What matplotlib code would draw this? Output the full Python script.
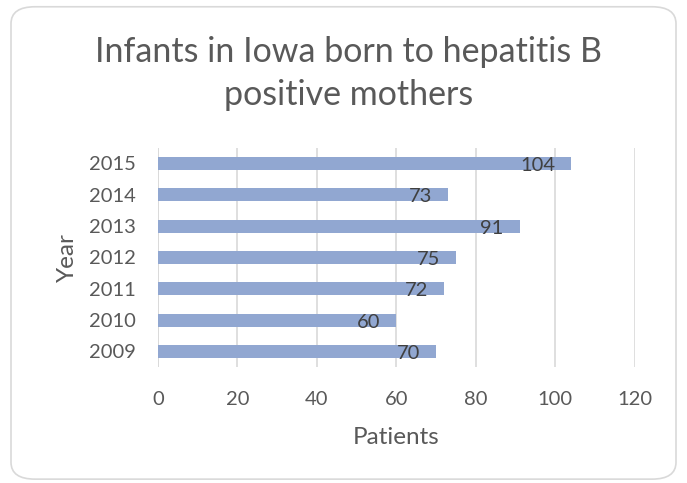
import matplotlib.pyplot as plt
from matplotlib.patches import FancyBboxPatch

years = ['2009', '2010', '2011', '2012', '2013', '2014', '2015']
patients = [70, 60, 72, 75, 91, 73, 104]
xticks = [0, 20, 40, 60, 80, 100, 120]

plt.rcParams['font.family'] = ['Lato', 'DejaVu Sans']

fig = plt.figure(figsize=(6.87, 4.83), dpi=100)

# rounded chart frame, like the excel chart area
frame = FancyBboxPatch((0.016, 0.008), 0.968, 0.978,
                       boxstyle='round,pad=0,rounding_size=0.035',
                       transform=fig.transFigure, fc='white', ec='#D9D9D9', lw=1.2,
                       zorder=-5)
fig.patches.append(frame)

ax = fig.add_axes([0.230, 0.240, 0.694, 0.454])
ax.set_facecolor('none')

pos = range(len(years))
ax.barh(pos, patients, height=0.42, color='#91A7D1', zorder=2)
for y, v in zip(pos, patients):
    ax.annotate(str(v), (v, y), xytext=(-16, -2), textcoords='offset pixels',
                ha='right', va='center', fontsize=14.5, color='#404040', zorder=3)

ax.set_xlim(0, 120)
ax.set_ylim(-0.5, 6.5)
ax.set_xticks(xticks)
ax.set_yticks(list(pos))
ax.set_yticklabels(years)
ax.grid(axis='x', color='#D9D9D9', lw=1.2, zorder=0)
for s in ax.spines.values():
    s.set_visible(False)
ax.axvline(0, color='#D9D9D9', lw=1.2, zorder=1)
ax.tick_params(length=0, labelsize=14.5, labelcolor='#595959')
ax.tick_params(axis='x', pad=17)
ax.tick_params(axis='y', pad=16)

ax.set_xlabel('Patients', fontsize=17.5, color='#595959', labelpad=14)
ax.set_ylabel('Year', fontsize=17.5, color='#595959', labelpad=8)

fig.text(0.507, 0.848, 'Infants in Iowa born to hepatitis B\npositive mothers',
         ha='center', va='center', fontsize=24.5, color='#595959', linespacing=1.45)

fig.savefig('out.png', dpi=100)
